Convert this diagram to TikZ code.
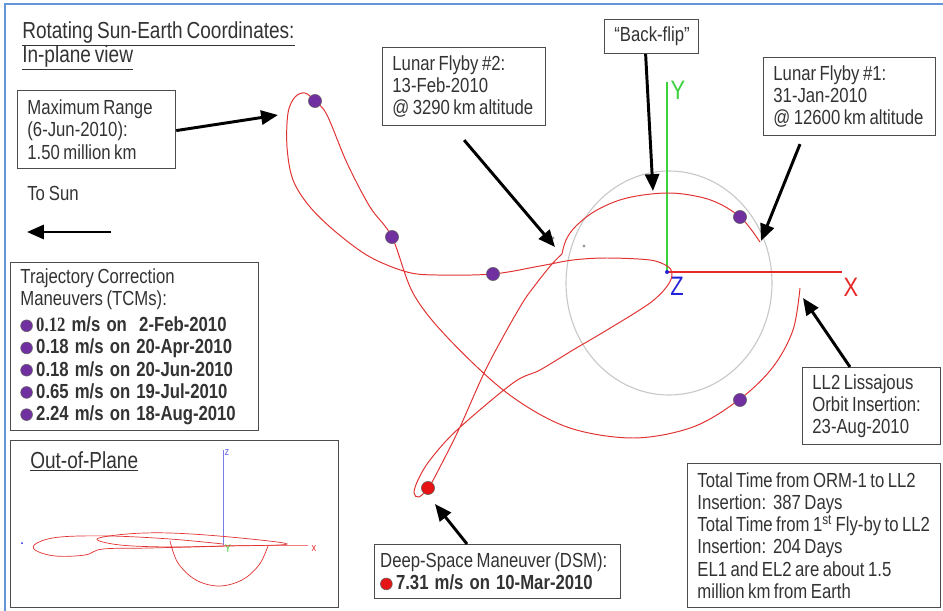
\documentclass[tikz,border=0pt]{standalone}
\usepackage{fontspec}
\setmainfont{Liberation Sans}[FakeStretch=0.82]
\newfontfamily\numserif{Liberation Serif}[FakeStretch=0.82]
\usetikzlibrary{arrows.meta,calc}
\definecolor{trajred}{RGB}{225,50,50}
\definecolor{tcmpurple}{RGB}{112,48,160}
\definecolor{dsmred}{RGB}{230,20,20}
\definecolor{frameblue}{RGB}{100,150,215}
\definecolor{moongray}{RGB}{200,200,200}
\definecolor{ygreen}{RGB}{60,210,60}
\definecolor{zblue}{RGB}{35,35,215}
\definecolor{xred}{RGB}{230,40,40}
\newcommand{\tightspace}{\spaceskip=0.17em plus 0.05em minus 0.03em\relax}
\newcommand{\boldline}[1]{{\spaceskip=0.3em\relax\bfseries #1}}
\tikzset{
  box/.style={draw=black!70,line width=0.8pt,fill=white,align=flush left,anchor=north west,
    inner xsep=7pt,inner ysep=2pt,text=black!80,font=\fontsize{14.5}{15.8}\selectfont,
    execute at begin node={\tightspace\hyphenpenalty=10000\exhyphenpenalty=10000}},
  callout/.style={line width=2.1pt,-{Triangle[length=12pt,width=10pt]}},
  traj/.style={trajred,line width=0.7pt},
  tcm/.style={circle,fill=tcmpurple,draw=black!60,line width=0.4pt,inner sep=0pt,minimum size=0.33cm},
  heading/.style={text=black!80,font=\fontsize{16.5}{17.5}\selectfont\tightspace,inner sep=0pt,align=left}
}
\newcommand{\legdot}[1]{\tikz[baseline=-0.55ex]\draw[fill=#1,draw=black!60,line width=0.4pt](0,0)circle(4.2pt);}

\begin{document}
\begin{tikzpicture}[x=0.025cm,y=-0.025cm]
\useasboundingbox(0,0)rectangle(943,611);
%frame
\draw[frameblue,line width=1.2pt](5,611)--(5,4)--(943,4);

%titles
\node[heading,anchor=north west](title)at(22,21){\underline{Rotating Sun-Earth Coordinates:}\\\underline{In-plane view}};
\node[heading,anchor=base west](tosun)at(27,200){\fontsize{14.5}{15.4}\selectfont To Sun};
\coordinate(suntail)at(111,232);
\coordinate(sunhead)at(27,232);
\draw[callout](suntail)--(sunhead);

%moon orbit and axes
\draw[moongray,line width=0.8pt](669,283)ellipse[x radius=103,y radius=112];
\coordinate(origin)at(667,272);
\draw[ygreen,line width=0.8pt](origin)--(667,82);
\draw[xred,line width=0.8pt](origin)--(842,272);
\fill[zblue](origin)circle(2);
\fill[black!40](584,246)circle(1.6);
\fill[black!40](553,238)circle(1.6);
\node[text=ygreen,font=\fontsize{19}{19}\selectfont](ylab)at(678,90){Y};
\node[text=zblue,font=\fontsize{19}{19}\selectfont](zlab)at(677,286){Z};
\node[text=xred,font=\fontsize{19}{19}\selectfont](xlab)at(851,287){X};

%trajectory
\draw[traj]plot[smooth,tension=0.6]coordinates{(760,242)(750,228)(740,217)(722,205)(700,197)(667,193)
  (627,198)(597,210)(576,226)(566,240)(562,254)};
\draw[traj]plot[smooth,tension=0.55]coordinates{(562,254)(552,264)(536,284)(520,307)(487,367)(460,427)
  (440,467)(429,487)(419,497)(414,493)(418,480)(430,460)(457,430)(513,383)(540,370)(573,350)(607,330)
  (650,303)(668,285)(672,273)(667,266)(650,260)(607,258)(573,260)(540,266)(493,274)(437,275)(407,272)
  (370,257)(337,233)(310,207)(293,180)(287,147)(288,113)(295,97)(305,93)(315,101)(327,115)(347,163)
  (370,207)(392,237)(413,293)(447,337)(507,393)(567,427)(633,438)(693,427)(740,399)(773,367)(793,330)(800,288)};

%maneuvers
\node[tcm](tcmA)at(740,217){};
\node[tcm](tcmB)at(493,274){};
\node[tcm](tcmC)at(315,101){};
\node[tcm](tcmD)at(392,237){};
\node[tcm](tcmE)at(740,400){};
\node[tcm,fill=dsmred](dsmdot)at(428,488){};

%boxes
\node[box,text width=3.46cm,minimum height=1.95cm](maxrange)at(17,90){Maximum Range\\(6-Jun-2010):\\1.50 million km};
\node[box,text width=3.585cm,minimum height=1.95cm](flybyB)at(382,47){Lunar Flyby \#2:\\13-Feb-2010\\@ 3290 km altitude};
\node[box,align=flush center,text width=1.86cm,minimum height=0.85cm](backflip)at(604,19){``Back-flip''};
\node[box,text width=3.81cm,minimum height=1.95cm](flybyA)at(763,57){Lunar Flyby \#1:\\31-Jan-2010\\@ 12600 km altitude};
\node[box,text width=2.96cm,minimum height=1.925cm](lltwo)at(802,367){LL2 Lissajous\\Orbit Insertion:\\23-Aug-2010};
\node[box,text width=5.71cm,minimum height=4.2cm](tcmbox)at(10,262){Trajectory Correction\\Maneuvers (TCMs):\\[3pt]
  \legdot{tcmpurple} \boldline{{\numserif 0.12} m/s on \ 2-Feb-2010}\\
  \legdot{tcmpurple} \boldline{0.18 m/s on 20-Apr-2010}\\
  \legdot{tcmpurple} \boldline{0.18 m/s on 20-Jun-2010}\\
  \legdot{tcmpurple} \boldline{0.65 m/s on 19-Jul-2010}\\
  \legdot{tcmpurple} \boldline{2.24 m/s on 18-Aug-2010}};
\node[box,inner xsep=4pt,text width=5.87cm,minimum height=1.35cm](dsmbox)at(374,544){Deep-Space Maneuver (DSM):\\
  \legdot{dsmred} \boldline{7.31 m/s on 10-Mar-2010}};
\node[box,text width=5.835cm,minimum height=3.6cm](totalbox)at(687,463){Total Time from ORM-1 to LL2\\
  Insertion:\ \ 387 Days\\Total Time from 1\textsuperscript{st} Fly-by to LL2\\Insertion:\ \ 204 Days\\
  EL1 and EL2 are about 1.5\\million km from Earth};

%callouts
\coordinate(maxpt)at(278,115);
\coordinate(fbBpt)at(555,247);
\coordinate(bfpt)at(653,191);
\coordinate(fbApt)at(761,241);
\coordinate(llpt)at(803,298);
\coordinate(dsmpt)at(435,504);
\draw[callout]($(maxrange.east)+(0,1)$)--(maxpt);
\draw[callout]($(flybyB.south)+(0,14)$)--(fbBpt);
\draw[callout]($(backflip.south)+(-6,0)$)--(bfpt);
\draw[callout]($(flybyA.south west)+(37,8)$)--(fbApt);
\draw[callout]($(lltwo.north west)+(48,0)$)--(llpt);
\draw[callout]($(dsmbox.north west)+(93,0)$)--(dsmpt);

%out-of-plane view
\node[box,text width=7.71cm,minimum height=4.175cm](oop)at(10,440){};
\node[heading,anchor=base west](ooptitle)at(30,468){\underline{Out-of-Plane}};
\coordinate(oorigin)at(223,545);
\draw[zblue!60,line width=0.5pt](oorigin)--(223,450);
\draw[xred!60,line width=0.5pt](oorigin)--(308,545);
\node[text=zblue!70,font=\fontsize{8}{8}\selectfont](ooz)at(227,453){z};
\node[text=xred,font=\fontsize{8}{8}\selectfont](oox)at(314,549){x};
\node[text=ygreen,font=\fontsize{8}{8}\selectfont](ooy)at(228,549){Y};
\fill[zblue](22,543)circle(1);
\draw[traj,line width=0.5pt]plot[smooth,tension=0.6]coordinates{(223,544)(170,539)(110,536)(60,537)(37,543)
  (35,550)(55,556)(85,555)(103,549)(150,548)(223,546)};
\draw[traj,line width=0.5pt]plot[smooth cycle,tension=0.6]coordinates{(97,539)(127,534)(170,533)(230,537)
  (287,544)(230,546)(170,547)(120,545)};
\draw[traj,line width=0.5pt]plot[smooth,tension=0.6]coordinates{(170,541)(178,563)(196,580)(219,586)
  (242,580)(259,565)(268,546)};
\end{tikzpicture}
\end{document}
